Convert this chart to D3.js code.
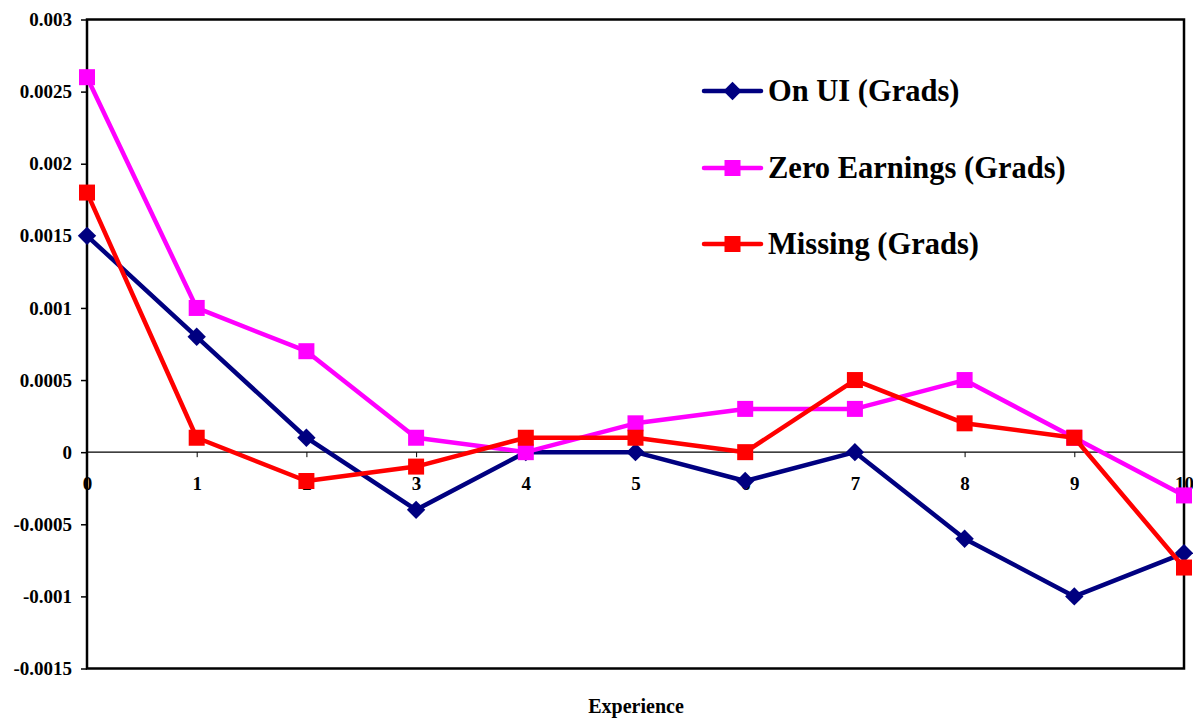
<!DOCTYPE html>
<html>
<head>
<meta charset="utf-8">
<script src="https://cdn.jsdelivr.net/npm/d3@7"></script>
<style>
  html, body { margin: 0; padding: 0; background: #fff; }
  svg { display: block; }
  text { font-family: "Liberation Serif", "DejaVu Serif", serif; font-weight: bold; fill: #000; }
</style>
</head>
<body>
<svg id="chart" width="1193" height="719"></svg>
<script>
// Experience years on the x axis
const experience = [0, 1, 2, 3, 4, 5, 6, 7, 8, 9, 10];

// Series values
const onUI = [0.0015, 0.0008, 0.0001, -0.0004, 0, 0, -0.0002, 0, -0.0006, -0.001, -0.0007];
const zeroEarnings = [0.0026, 0.001, 0.0007, 0.0001, 0, 0.0002, 0.0003, 0.0003, 0.0005, 0.0001, -0.0003];
const missing = [0.0018, 0.0001, -0.0002, -0.0001, 0.0001, 0.0001, 0, 0.0005, 0.0002, 0.0001, -0.0008];

// Y axis tick labels
const yTicks = [-0.0015, -0.001, -0.0005, 0, 0.0005, 0.001, 0.0015, 0.002, 0.0025, 0.003];
const yTickLabels = ["-0.0015", "-0.001", "-0.0005", "0", "0.0005", "0.001", "0.0015", "0.002", "0.0025", "0.003"];

const seriesNames = ["On UI (Grads)", "Zero Earnings (Grads)", "Missing (Grads)"];

const series = [
  { name: seriesNames[0], values: onUI, color: "#000080", marker: "diamond" },
  { name: seriesNames[1], values: zeroEarnings, color: "#FF00FF", marker: "square" },
  { name: seriesNames[2], values: missing, color: "#FF0000", marker: "square" }
];

const svg = d3.select("#chart");
const plotLeft = 87, plotRight = 1184, plotTop = 19.5, plotBottom = 668.5;

const x = d3.scaleLinear().domain([0, 10]).range([plotLeft, plotRight]);
const y = d3.scaleLinear().domain([-0.0015, 0.003]).range([plotBottom, plotTop]);

// Plot frame
svg.append("rect")
  .attr("x", plotLeft).attr("y", plotTop)
  .attr("width", plotRight - plotLeft).attr("height", plotBottom - plotTop)
  .attr("fill", "none").attr("stroke", "#000").attr("stroke-width", 2.5);

// Y axis with outward ticks
const yAxis = d3.axisLeft(y)
  .tickValues(yTicks)
  .tickFormat((d, i) => yTickLabels[i])
  .tickSize(6)
  .tickPadding(9);
const gy = svg.append("g").attr("transform", `translate(${plotLeft},0)`).call(yAxis);
gy.select(".domain").remove();
gy.selectAll(".tick line").attr("stroke", "#000").attr("stroke-width", 1.5);
gy.selectAll(".tick text")
  .style("font-family", '"Liberation Serif", serif')
  .style("font-weight", "bold")
  .style("font-size", "19px")
  .attr("fill", "#000");

// X axis along zero
const xAxis = d3.axisBottom(x)
  .tickValues(experience)
  .tickFormat(d3.format("d"))
  .tickSize(5)
  .tickPadding(19);
const gx = svg.append("g").attr("transform", `translate(0,${y(0)})`).call(xAxis);
gx.select(".domain").attr("stroke", "#000").attr("stroke-width", 1.2)
  .attr("d", `M${plotLeft},0H${plotRight}`);
gx.selectAll(".tick line").attr("stroke", "#000").attr("stroke-width", 1);
gx.selectAll(".tick text")
  .style("font-family", '"Liberation Serif", serif')
  .style("font-weight", "bold")
  .style("font-size", "19px")
  .attr("fill", "#000");

// X axis title
svg.append("text")
  .attr("x", 636).attr("y", 713)
  .attr("text-anchor", "middle")
  .style("font-size", "20px")
  .text("Experience");

const line = d3.line().x((d, i) => x(experience[i])).y(d => y(d));

function drawMarker(g, type, color, cx, cy) {
  if (type === "diamond") {
    // square turned 45 degrees
    g.append("rect").attr("x", -6.5).attr("y", -6.5)
      .attr("width", 13).attr("height", 13)
      .attr("transform", `translate(${cx},${cy}) rotate(45)`)
      .attr("fill", color);
  } else {
    g.append("rect").attr("x", cx - 8).attr("y", cy - 8)
      .attr("width", 16).attr("height", 16).attr("fill", color);
  }
}

series.forEach(s => {
  const g = svg.append("g");
  g.append("path").datum(s.values)
    .attr("d", line).attr("fill", "none")
    .attr("stroke", s.color).attr("stroke-width", 4.5)
    .attr("stroke-linejoin", "round");
  s.values.forEach((v, i) => drawMarker(g, s.marker, s.color, x(experience[i]), y(v)));
});

// Legend
const legendY = [91, 168, 244];
series.forEach((s, i) => {
  const g = svg.append("g");
  g.append("line").attr("x1", 704).attr("x2", 761)
    .attr("y1", legendY[i]).attr("y2", legendY[i])
    .attr("stroke", s.color).attr("stroke-width", 4.5).attr("stroke-linecap", "round");
  drawMarker(g, s.marker, s.color, 732.5, legendY[i]);
  g.append("text").attr("x", 768).attr("y", legendY[i] + 10)
    .style("font-size", "30.5px")
    .text(s.name);
});
</script>
</body>
</html>
